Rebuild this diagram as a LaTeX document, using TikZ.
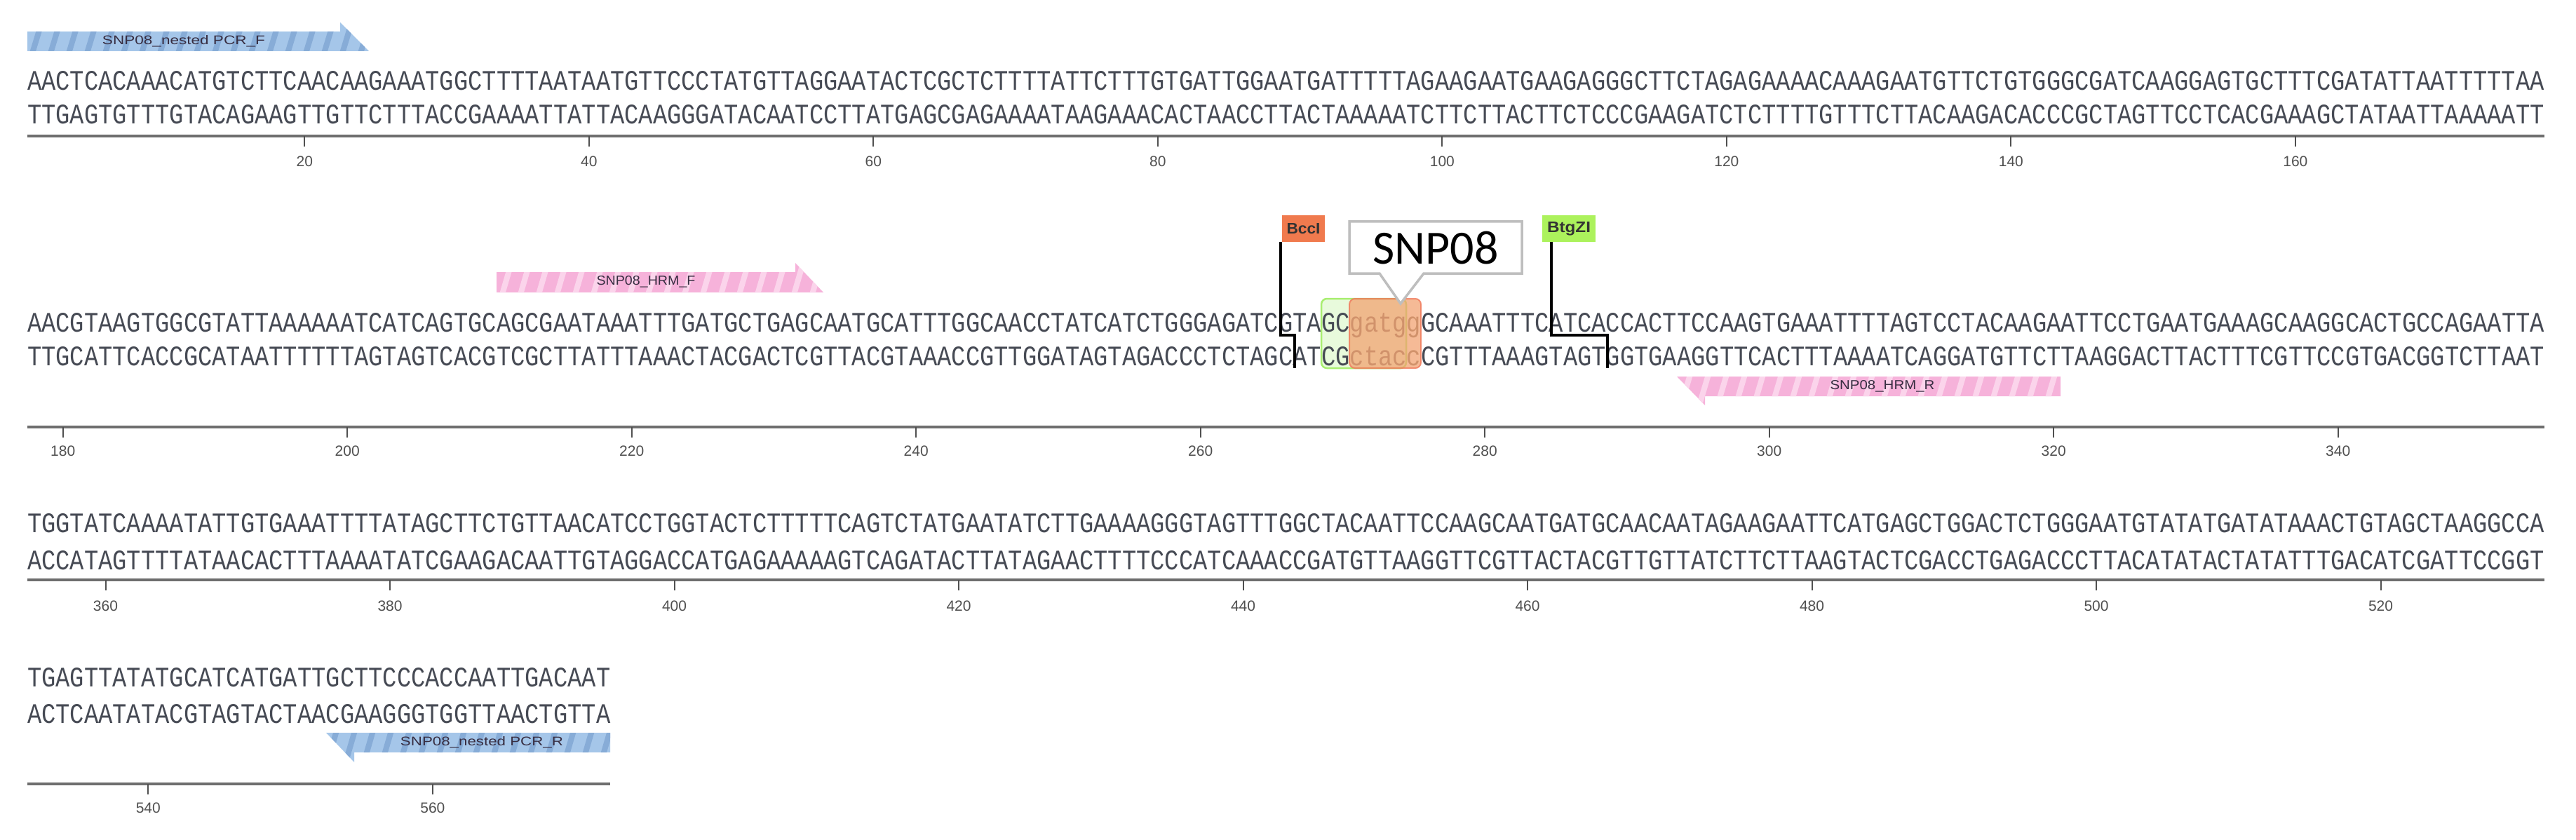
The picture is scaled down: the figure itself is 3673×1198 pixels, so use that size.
\documentclass[tikz,border=0pt]{standalone}
\usepackage{fontspec}
\usepackage{graphicx}
\setmainfont{Liberation Sans}
\newfontfamily\seqfnt{Liberation Mono}
\newfontfamily\calfnt{Carlito}
\definecolor{seqcol}{RGB}{70,74,84}
\definecolor{lowcol}{RGB}{125,112,100}
\definecolor{axiscol}{RGB}{110,110,110}
\definecolor{tickcol}{RGB}{80,80,80}
\definecolor{lblcol}{RGB}{55,45,65}
\definecolor{bluebase}{RGB}{165,198,233}
\definecolor{bluestripe}{RGB}{135,172,215}
\definecolor{pinkbase}{RGB}{246,178,218}
\definecolor{pinkstripe}{RGB}{251,212,235}
\definecolor{greenfill}{RGB}{232,250,220}
\definecolor{greenline}{RGB}{168,238,112}
\definecolor{orangefill}{RGB}{242,160,110}
\definecolor{orangeline}{RGB}{240,120,90}
\definecolor{bccorange}{RGB}{240,122,78}
\definecolor{btggreen}{RGB}{172,242,92}
\definecolor{calloutgray}{RGB}{190,190,190}
\newcommand\seqrow[2]{\resizebox{#1pt}{27pt}{\seqfnt #2}}
\newcommand\plbl[2]{\resizebox{#1pt}{13pt}{#2}}
\begin{document}
\begin{tikzpicture}[x=1pt,y=-1pt,
  seqtext/.style={inner sep=0pt, outer sep=0pt, anchor=base west, text=seqcol},
  axisline/.style={line width=4.5pt, draw=axiscol},
  tickmark/.style={line width=2pt, draw=tickcol},
  ticklabel/.style={inner sep=0pt, text=tickcol, font=\fontsize{21}{21}\selectfont},
  primerlbl/.style={inner sep=0pt, text=lblcol},
  stripe/.style={line width=8pt},
  cutline/.style={line width=3.5pt, draw=black},
  enzbox/.style={inner sep=0pt, minimum height=38pt, text=black!80}]
\useasboundingbox (0,0) rectangle (3673,1198);
\fill[white] (0,0) rectangle (3673,1198);

% ---------- Row 1 ----------
\fill[bluebase] (39,45) -- (485,45) -- (485,32) -- (526,73) -- (39,73) -- cycle;
\begin{scope}
\clip (39,45) -- (485,45) -- (485,32) -- (526,73) -- (39,73) -- cycle;
\foreach \s in {20,46,...,540} \draw[stripe,bluestripe] (\s,76) -- (\s+14,30);
\end{scope}
\node[primerlbl] (pnf) at (262,59) {\plbl{232}{SNP08\_nested PCR\_F}};

\node[seqtext] (r1t) at (39,128.5) {\seqrow{3588.7}{AACTCACAAACATGTCTTCAACAAGAAATGGCTTTTAATAATGTTCCCTATGTTAGGAATACTCGCTCTTTTATTCTTTGTGATTGGAATGATTTTTAGAAGAATGAAGAGGGCTTCTAGAGAAAACAAAGAATGTTCTGTGGGCGATCAAGGAGTGCTTTCGATATTAATTTTTAA}};
\node[seqtext] (r1b) at (39,176.5) {\seqrow{3588.7}{TTGAGTGTTTGTACAGAAGTTGTTCTTTACCGAAAATTATTACAAGGGATACAATCCTTATGAGCGAGAAAATAAGAAACACTAACCTTACTAAAAATCTTCTTACTTCTCCCGAAGATCTCTTTTGTTTCTTACAAGACACCCGCTAGTTCCTCACGAAAGCTATAATTAAAAATT}};
\draw[axisline] (39,194) -- (3628,194);
\foreach \n in {20,40,...,160}{
  \pgfmathsetmacro\xx{39+(\n-0.5)*20.275}
  \draw[tickmark] (\xx,194) -- (\xx,209);
  \node[ticklabel] (tl\n) at (\xx,230) {\n};
}

% ---------- Row 2 ----------
\fill[pinkbase] (708,388) -- (1134,388) -- (1134,375) -- (1174,417) -- (708,417) -- cycle;
\begin{scope}
\clip (708,388) -- (1134,388) -- (1134,375) -- (1174,417) -- (708,417) -- cycle;
\foreach \s in {690,716,...,1190} \draw[stripe,pinkstripe] (\s,420) -- (\s+14,372);
\end{scope}
\node[primerlbl] (phf) at (921,402) {\plbl{141}{SNP08\_HRM\_F}};

\fill[pinkbase] (2391,537) -- (2938,537) -- (2938,565) -- (2431,565) -- (2431,578) -- cycle;
\begin{scope}
\clip (2391,537) -- (2938,537) -- (2938,565) -- (2431,565) -- (2431,578) -- cycle;
\foreach \s in {2370,2396,...,2950} \draw[stripe,pinkstripe] (\s,581) -- (\s+14,534);
\end{scope}
\node[primerlbl] (phr) at (2684,551) {\plbl{149}{SNP08\_HRM\_R}};

% BtgZI site (green) under the text
\fill[greenfill, rounded corners=8pt] (1884,426) rectangle (2005,525);

\node[seqtext] (r2t) at (39,473.5) {\seqrow{3588.7}{AACGTAAGTGGCGTATTAAAAAATCATCAGTGCAGCGAATAAATTTGATGCTGAGCAATGCATTTGGCAACCTATCATCTGGGAGATCGTAGC\textcolor{lowcol}{gatgg}GCAAATTTCATCACCACTTCCAAGTGAAATTTTAGTCCTACAAGAATTCCTGAATGAAAGCAAGGCACTGCCAGAATTA}};
\node[seqtext] (r2b) at (39,521) {\seqrow{3588.7}{TTGCATTCACCGCATAATTTTTTAGTAGTCACGTCGCTTATTTAAACTACGACTCGTTACGTAAACCGTTGGATAGTAGACCCTCTAGCATCG\textcolor{lowcol}{ctacc}CGTTTAAAGTAGTGGTGAAGGTTCACTTTAAAATCAGGATGTTCTTAAGGACTTACTTTCGTTCCGTGACGGTCTTAAT}};

\draw[greenline, line width=2.5pt, rounded corners=8pt] (1884,426) rectangle (2005,525);
\fill[orangefill, opacity=0.72, rounded corners=8pt] (1924,426) rectangle (2026,525);
\draw[orangeline, line width=2pt, opacity=0.8, rounded corners=8pt] (1924,426) rectangle (2026,525);

% enzyme labels and cut lines
\node[enzbox, fill=bccorange, minimum width=61pt] (bcc) at (1858.5,326) {\resizebox{48pt}{15pt}{\bfseries BccI}};
\node[enzbox, fill=btggreen, minimum width=76pt] (btg) at (2237,326) {\resizebox{62pt}{15pt}{\bfseries BtgZI}};
\draw[cutline] ([xshift=-2pt]bcc.south west) -- ++(0,133) -- ++(20,0) -- ++(0,47);
\draw[cutline] ([xshift=13pt]btg.south west) -- ++(0,133) -- ++(80,0) -- ++(0,47);

% SNP08 callout
\draw[calloutgray, fill=white, line width=3.5pt, line join=miter]
  (1924,316) -- (2170,316) -- (2170,390) -- (2030,390) -- (1997,433) -- (1967,390) -- (1924,390) -- cycle;
\node[inner sep=0pt, text=black] (snp) at (2047,354) {\calfnt\fontsize{68}{68}\selectfont SNP08};

\draw[axisline] (39,609) -- (3628,609);
\foreach \n in {180,200,...,340}{
  \pgfmathsetmacro\xx{39+(\n-177.5)*20.275}
  \draw[tickmark] (\xx,609) -- (\xx,624);
  \node[ticklabel] (tl\n) at (\xx,643) {\n};
}

% ---------- Row 3 ----------
\node[seqtext] (r3t) at (39,759.5) {\seqrow{3588.7}{TGGTATCAAAATATTGTGAAATTTTATAGCTTCTGTTAACATCCTGGTACTCTTTTTCAGTCTATGAATATCTTGAAAAGGGTAGTTTGGCTACAATTCCAAGCAATGATGCAACAATAGAAGAATTCATGAGCTGGACTCTGGGAATGTATATGATATAAACTGTAGCTAAGGCCA}};
\node[seqtext] (r3b) at (39,812.5) {\seqrow{3588.7}{ACCATAGTTTTATAACACTTTAAAATATCGAAGACAATTGTAGGACCATGAGAAAAAGTCAGATACTTATAGAACTTTTCCCATCAAACCGATGTTAAGGTTCGTTACTACGTTGTTATCTTCTTAAGTACTCGACCTGAGACCCTTACATATACTATATTTGACATCGATTCCGGT}};
\draw[axisline] (39,827) -- (3628,827);
\foreach \n in {360,380,...,520}{
  \pgfmathsetmacro\xx{39+(\n-354.5)*20.275}
  \draw[tickmark] (\xx,827) -- (\xx,842);
  \node[ticklabel] (tl\n) at (\xx,864) {\n};
}

% ---------- Row 4 ----------
\node[seqtext] (r4t) at (39,979.5) {\seqrow{831.3}{TGAGTTATATGCATCATGATTGCTTCCCACCAATTGACAAT}};
\node[seqtext] (r4b) at (39,1031.5) {\seqrow{831.3}{ACTCAATATACGTAGTACTAACGAAGGGTGGTTAACTGTTA}};

\fill[bluebase] (465,1045) -- (870,1045) -- (870,1073) -- (505,1073) -- (505,1087) -- cycle;
\begin{scope}
\clip (465,1045) -- (870,1045) -- (870,1073) -- (505,1073) -- (505,1087) -- cycle;
\foreach \s in {440,466,...,880} \draw[stripe,bluestripe] (\s,1090) -- (\s+14,1042);
\end{scope}
\node[primerlbl] (pnr) at (687,1059) {\plbl{232}{SNP08\_nested PCR\_R}};

\draw[axisline] (39,1118) -- (870,1118);
\foreach \n in {540,560}{
  \pgfmathsetmacro\xx{39+(\n-531.5)*20.275}
  \draw[tickmark] (\xx,1118) -- (\xx,1133);
  \node[ticklabel] (tl\n) at (\xx,1152) {\n};
}
\end{tikzpicture}
\end{document}
